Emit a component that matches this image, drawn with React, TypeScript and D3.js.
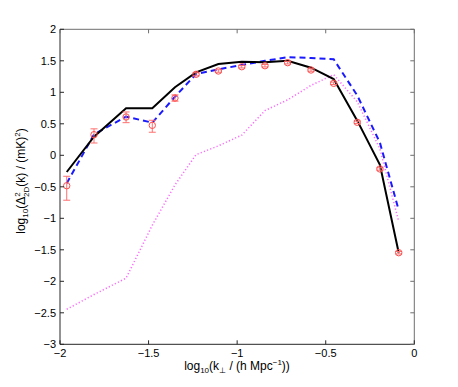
import React from "react";
import * as d3 from "d3";

const kPerp = [-1.962, -1.808, -1.627, -1.479, -1.351, -1.232, -1.106, -0.974, -0.843, -0.715, -0.583, -0.455, -0.322, -0.194, -0.088];
const measured = [-0.483, 0.327, 0.608, 0.476, 0.909, 1.286, 1.338, 1.406, 1.422, 1.47, 1.354, 1.143, 0.524, -0.217, -1.546];
const errUp = [0.15, 0.093, 0.08, 0.08, 0.05, 0.025, 0.02, 0.02, 0.02, 0.02, 0.02, 0.02, 0.02, 0.02, 0.02];
const errDown = [0.23, 0.132, 0.09, 0.11, 0.05, 0.025, 0.02, 0.02, 0.02, 0.02, 0.02, 0.02, 0.02, 0.02, 0.02];
const modelSolid = [-0.265, 0.295, 0.746, 0.746, 1.08, 1.317, 1.45, 1.486, 1.476, 1.5, 1.39, 1.21, 0.55, -0.15, -1.546];
const modelDashed = [-0.445, 0.333, 0.613, 0.518, 0.93, 1.29, 1.365, 1.433, 1.5, 1.556, 1.545, 1.524, 0.95, 0.2, -0.87];
const modelDotted = [-2.444, -2.21, -1.95, -1.11, -0.47, 0.01, 0.15, 0.32, 0.71, 0.88, 1.11, 1.28, 0.85, 0.1, -1.05];

const xTicks = [-2, -1.5, -1, -0.5, 0];
const yTicks = [-3, -2.5, -2, -1.5, -1, -0.5, 0, 0.5, 1, 1.5, 2];

const W = 458, H = 387;
const L = 60, R = 414.3, T = 29.3, B = 344.3;
const font = "'Liberation Sans', Arial, Helvetica, sans-serif";

function fmt(v: number) {
  const s = String(Math.abs(v));
  return (v < 0 ? "\u2212" : "") + s;
}

export default function App() {
  const x = d3.scaleLinear().domain([-2, 0]).range([L, R]);
  const y = d3.scaleLinear().domain([-3, 2]).range([B, T]);
  const line = d3.line<number>().x((_, i) => x(kPerp[i])).y((d) => y(d));
  const tl = 4;
  const axisDark = "#262626";
  const axisLight = "#6e6e6e";
  return (
    <svg width={W} height={H} style={{ position: "absolute", left: 0, top: 0, background: "#fff" }} fontFamily={font}>
      <rect x={0} y={0} width={W} height={H} fill="#fff" />
      {/* data lines */}
      <path d={line(modelDotted) || ""} fill="none" stroke="#ff66ff" strokeWidth={1.5} strokeDasharray="1.2,2.2" />
      <path d={line(modelDashed) || ""} fill="none" stroke="#1a1aff" strokeWidth={2} strokeDasharray="6,4" />
      <path d={line(modelSolid) || ""} fill="none" stroke="#000" strokeWidth={2} />
      {/* error bars */}
      {kPerp.map((k, i) => {
        const cx = x(k);
        const y1 = y(measured[i] + errUp[i]);
        const y2 = y(measured[i] - errDown[i]);
        return (
          <g key={"e" + i} stroke="#ff7070" strokeWidth={1}>
            <line x1={cx} x2={cx} y1={y1} y2={y2} />
            <line x1={cx - 3.5} x2={cx + 3.5} y1={y1} y2={y1} />
            <line x1={cx - 3.5} x2={cx + 3.5} y1={y2} y2={y2} />
          </g>
        );
      })}
      {kPerp.map((k, i) => (
        <circle key={"c" + i} cx={x(k)} cy={y(measured[i])} r={3.2} fill="none" stroke="#ff4d4d" strokeWidth={1} />
      ))}
      {/* axes box */}
      <line x1={L} x2={R} y1={B} y2={B} stroke={axisDark} />
      <line x1={L} x2={L} y1={T} y2={B} stroke={axisDark} />
      <line x1={L} x2={R} y1={T} y2={T} stroke={axisLight} />
      <line x1={R} x2={R} y1={T} y2={B} stroke={axisLight} />
      {xTicks.map((t) => (
        <g key={"xt" + t}>
          <line x1={x(t)} x2={x(t)} y1={B} y2={B - tl} stroke={axisDark} />
          <line x1={x(t)} x2={x(t)} y1={T} y2={T + tl} stroke={axisLight} />
          <text x={x(t)} y={357} textAnchor="middle" fontSize={11} fill="#000">{fmt(t)}</text>
        </g>
      ))}
      {yTicks.map((t) => (
        <g key={"yt" + t}>
          <line x1={L} x2={L + tl} y1={y(t)} y2={y(t)} stroke={axisDark} />
          <line x1={R} x2={R - tl} y1={y(t)} y2={y(t)} stroke={axisLight} />
          <text x={L - 4} y={y(t) + 4} textAnchor="end" fontSize={11} fill="#000">{fmt(t)}</text>
        </g>
      ))}
      {/* x label */}
      <text x={237} y={370} textAnchor="middle" fontSize={12} fill="#000">
        log<tspan fontSize={8} dy={3}>10</tspan>
        <tspan dy={-3}>(k</tspan>
        <tspan fontSize={8} dy={3}>{"\u22A5"}</tspan>
        <tspan dy={-3}>{" / (h Mpc"}</tspan>
        <tspan fontSize={8} dy={-5}>{"\u22121"}</tspan>
        <tspan dy={5}>))</tspan>
      </text>
      {/* y label */}
      <text transform={`translate(25,${181}) rotate(-90)`} textAnchor="middle" fontSize={12} fill="#000">
        log<tspan fontSize={8} dy={3}>10</tspan>
        <tspan dy={-3}>({"\u0394"}</tspan>
        <tspan fontSize={8} dy={-5}>2</tspan>
        <tspan fontSize={8} dx={-4.5} dy={8.5}>2D</tspan>
        <tspan dy={-3.5}>(k) / (mK)</tspan>
        <tspan fontSize={8} dy={-5}>2</tspan>
        <tspan dy={5}>)</tspan>
      </text>
    </svg>
  );
}
